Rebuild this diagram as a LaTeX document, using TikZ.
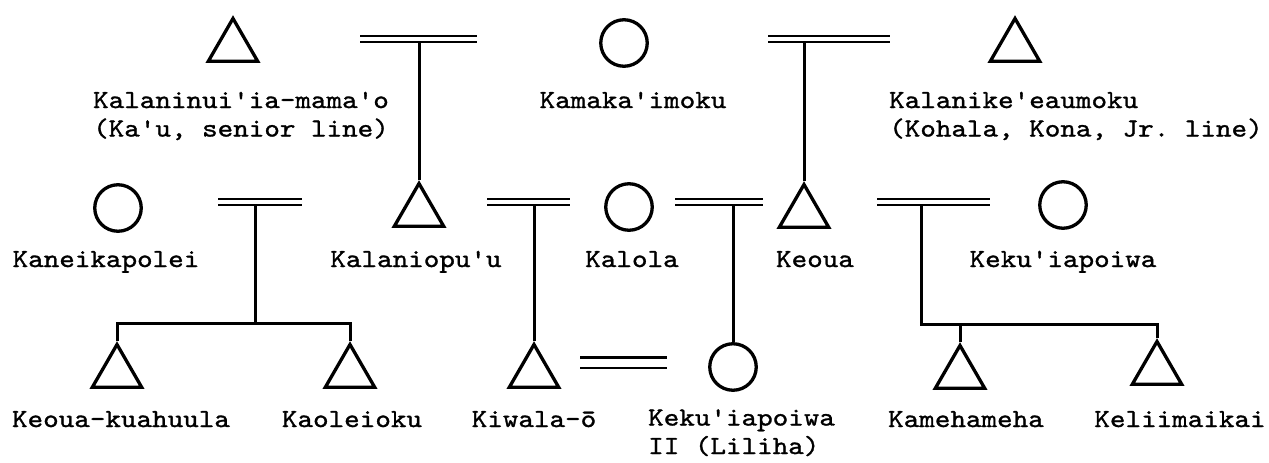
\documentclass[tikz,border=0pt]{standalone}
\usepackage{fontspec}
\setmonofont{lmmono10-regular.otf}[FakeStretch=1.14, FakeBold=1.2]
\usetikzlibrary{shapes.geometric}
\begin{document}
\begin{tikzpicture}[x=1pt,y=-1pt,
  male/.style={draw, regular polygon, regular polygon sides=3, minimum size=57pt, inner sep=0pt, line width=3.3pt},
  female/.style={draw, circle, minimum size=46.5pt, inner sep=0pt, line width=3.3pt},
  lbl/.style={font=\ttfamily\fontsize{26}{28.5}\selectfont, inner sep=0pt},
  marr/.style={double, double distance=3.4pt, line width=2.7pt},
  wide marr/.style={double, double distance=8pt, line width=2.9pt},
  link/.style={line width=3pt},
]
\useasboundingbox (0,0) rectangle (1269,463);

% persons
\node[male]   (kal) at (233,47) {};
\node[female] (kam) at (624,43) {};
\node[male]   (kke) at (1015,47) {};
\node[female] (kan) at (118,208) {};
\node[male]   (kop) at (419,212) {};
\node[female] (klo) at (629,207) {};
\node[male]   (keo) at (804,213) {};
\node[female] (kek) at (1063,205) {};
\node[male]   (kku) at (117,373) {};
\node[male]   (kao) at (350,373) {};
\node[male]   (kiw) at (534,373) {};
\node[female] (kk2) at (733,367) {};
\node[male]   (kme) at (960,374) {};
\node[male]   (kli) at (1157,370) {};

% labels (multi-line nodes: base = last line)
\node[lbl, anchor=base, align=center] (lkal) at (241,136.5) {Kalaninui'ia-mama'o\\(Ka'u, senior line)};
\node[lbl, anchor=base] (lkam) at (633,108) {Kamaka'imoku};
\node[lbl, anchor=base west, align=left] (lkke) at (889,136.5) {Kalanike'eaumoku\\(Kohala, Kona, Jr. line)};
\node[lbl, anchor=base] (lkan) at (106,267) {Kaneikapolei};
\node[lbl, anchor=base] (lkop) at (416,267) {Kalaniopu'u};
\node[lbl, anchor=base] (lklo) at (632,267) {Kalola};
\node[lbl, anchor=base] (lkeo) at (815,267) {Keoua};
\node[lbl, anchor=base] (lkek) at (1063,267) {Keku'iapoiwa};
\node[lbl, anchor=base] (lkku) at (121,427) {Keoua-kuahuula};
\node[lbl, anchor=base] (lkao) at (352,427) {Kaoleioku};
\node[lbl, anchor=base] (lkiw) at (534,427) {Kiwala-ō};
\node[lbl, anchor=base west, align=left] (lkk2) at (648,454) {Keku'iapoiwa\\II (Liliha)};
\node[lbl, anchor=base] (lkme) at (966,427) {Kamehameha};
\node[lbl, anchor=base] (lkli) at (1180,427) {Keliimaikai};

% marriage bars
\coordinate (m1) at (419,39);  \coordinate (m1a) at (360,39);  \coordinate (m1b) at (477,39);
\coordinate (m2) at (804,39);  \coordinate (m2a) at (768,39);  \coordinate (m2b) at (890,39);
\coordinate (m3) at (255,202); \coordinate (m3a) at (218,202); \coordinate (m3b) at (302,202);
\coordinate (m4) at (534,202); \coordinate (m4a) at (487,202); \coordinate (m4b) at (570,202);
\coordinate (m5) at (733,202); \coordinate (m5a) at (675,202); \coordinate (m5b) at (763,202);
\coordinate (m6) at (921,202); \coordinate (m6a) at (877,202); \coordinate (m6b) at (990,202);
\coordinate (m7a) at (580,362.5); \coordinate (m7b) at (667,362.5);
\coordinate (s1) at (255,323);
\coordinate (s2) at (921,324);

% descent lines
\draw[link] (m1) -- (kop.corner 1);
\draw[link] (m2) -- (keo.corner 1);
\draw[link] (m3) -- (s1);
\draw[link] (kku.corner 1) -- (kku.corner 1 |- s1) -- (kao.corner 1 |- s1) -- (kao.corner 1);
\draw[link] (m4) -- (kiw.corner 1);
\draw[link] (m5) -- (kk2.north);
\draw[link] (m6) -- (s2) -- (kli.corner 1 |- s2) -- (kli.corner 1);
\draw[link] (kme.corner 1) -- (kme.corner 1 |- s2);

% marriage double lines
\draw[marr] (m1a) -- (m1b);
\draw[marr] (m2a) -- (m2b);
\draw[marr] (m3a) -- (m3b);
\draw[marr] (m4a) -- (m4b);
\draw[marr] (m5a) -- (m5b);
\draw[marr] (m6a) -- (m6b);
\draw[wide marr] (m7a) -- (m7b);
\end{tikzpicture}
\end{document}
